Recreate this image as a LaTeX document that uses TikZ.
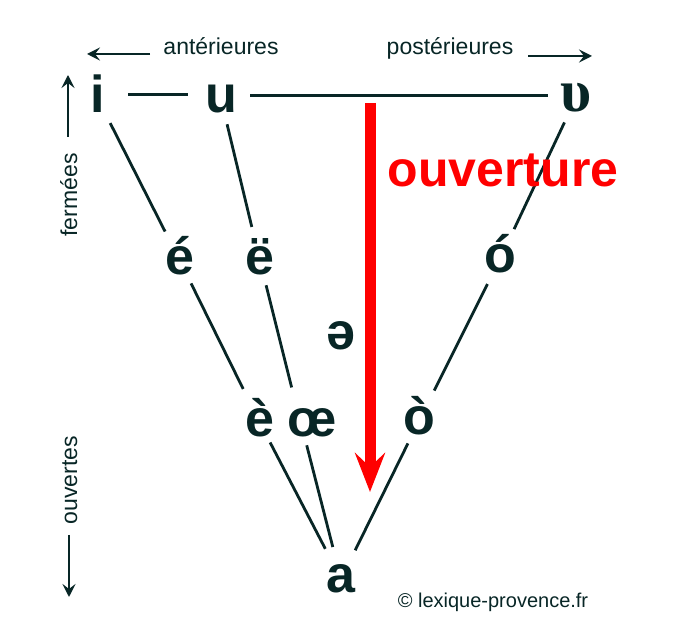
\documentclass[tikz,border=0pt]{standalone}
\usepackage{fontspec}
\setmainfont{Liberation Sans}
\newfontfamily\ipaserif{Liberation Serif}
\usetikzlibrary{arrows.meta}
\definecolor{ink}{RGB}{8,38,38}
\begin{document}
\begin{tikzpicture}[x=1pt,y=-1pt,
  vow/.style={font=\bfseries\fontsize{52}{52}\selectfont, text=ink, inner sep=0pt, text height=28pt, text depth=0pt},
  lab/.style={font=\fontsize{23}{23}\selectfont, text=ink, inner sep=0pt},
  link/.style={draw=ink, line width=2.8pt},
  hlink/.style={draw=ink, line width=3pt},
  sarrow/.style={draw=ink, line width=2.4pt, -{Stealth[length=13pt,width=13pt,inset=5pt]}},
  bigarrow/.style={draw=red, line width=11pt, -{Stealth[length=39pt,width=30pt,inset=14pt]}}
]
\useasboundingbox (0,0) rectangle (673,636);
\fill[white] (0,0) rectangle (673,636);

% vowels
\node[vow] (i) at (98,99) {i};
\node[vow] (u) at (221,99) {u};
\node[vow, font=\ipaserif\bfseries\fontsize{60}{60}\selectfont] (v) at (576,98) {υ};
\node[vow] (e1) at (180,261) {é};
\node[vow] (e2) at (260,261) {ë};
\node[vow] (o1) at (500,259) {ó};
\node[vow] (schwa) at (341,336) {ə};
\node[vow] (e3) at (260,423) {è};
\node[vow] (oe) at (312,423) {œ};
\node[vow] (o2) at (419,421) {ò};
\node[vow] (a) at (341,579) {a};

% top horizontal lines
\draw[hlink, shorten <=30pt, shorten >=33pt] ([yshift=4pt]i.center) -- ([yshift=4pt]u.center);
\draw[hlink, shorten <=29pt, shorten >=28pt] ([yshift=3pt]u.center) -- ([yshift=2pt]v.center);

% diagonal lines
\draw[link, shorten <=27pt, shorten >=33pt] (i.center) -- (e1.center);
\draw[link, shorten <=26pt, shorten >=35pt] (u.center) -- (e2.center);
\draw[link, shorten <=25pt, shorten >=38pt] (e1.center) -- (e3.center);
\draw[link, shorten <=25pt, shorten >=22pt] (e2.center) -- ([xshift=-15pt]oe.north);
\draw[link, shorten <=22pt, shorten >=34pt] (e3.center) -- (a.center);
\draw[link, shorten <=23pt, shorten >=33pt] ([xshift=-11pt]oe.center) -- (a.center);
\draw[link, shorten <=25pt, shorten >=32pt] (o2.center) -- (a.center);
\draw[link, shorten <=28pt, shorten >=34pt] (o1.center) -- (o2.center);
\draw[link, shorten <=27pt, shorten >=33pt] (v.center) -- (o1.center);

% red arrow
\coordinate (rtop) at (370,103);
\coordinate (rtip) at (370,492);
\draw[bigarrow] (rtop) -- (rtip);
\node[anchor=base, inner sep=0pt, text=red, font=\bfseries\fontsize{50}{50}\selectfont] (ouv) at (503,187) {ouverture};

% labels
\node[lab, anchor=base] (ant) at (221,55) {antérieures};
\node[lab, anchor=base] (post) at (450,55) {postérieures};
\node[lab, anchor=base, rotate=90] (ferm) at (77,195) {fermées};
\node[lab, anchor=base, rotate=90] (ouvs) at (77,480) {ouvertes};
\node[anchor=base, inner sep=0pt, text=ink, font=\fontsize{20}{20}\selectfont] (copy) at (493,608) {© lexique-provence.fr};

% side arrows
\coordinate (antTail) at (150,54);
\coordinate (antHead) at (87,54);
\coordinate (posTail) at (528,56);
\coordinate (posHead) at (592,56);
\coordinate (fermTail) at (68,137);
\coordinate (fermHead) at (68,75);
\coordinate (ouvTail) at (69,535);
\coordinate (ouvHead) at (69,597);
\draw[sarrow] (antTail) -- (antHead);
\draw[sarrow] (posTail) -- (posHead);
\draw[sarrow] (fermTail) -- (fermHead);
\draw[sarrow] (ouvTail) -- (ouvHead);
\end{tikzpicture}
\end{document}
